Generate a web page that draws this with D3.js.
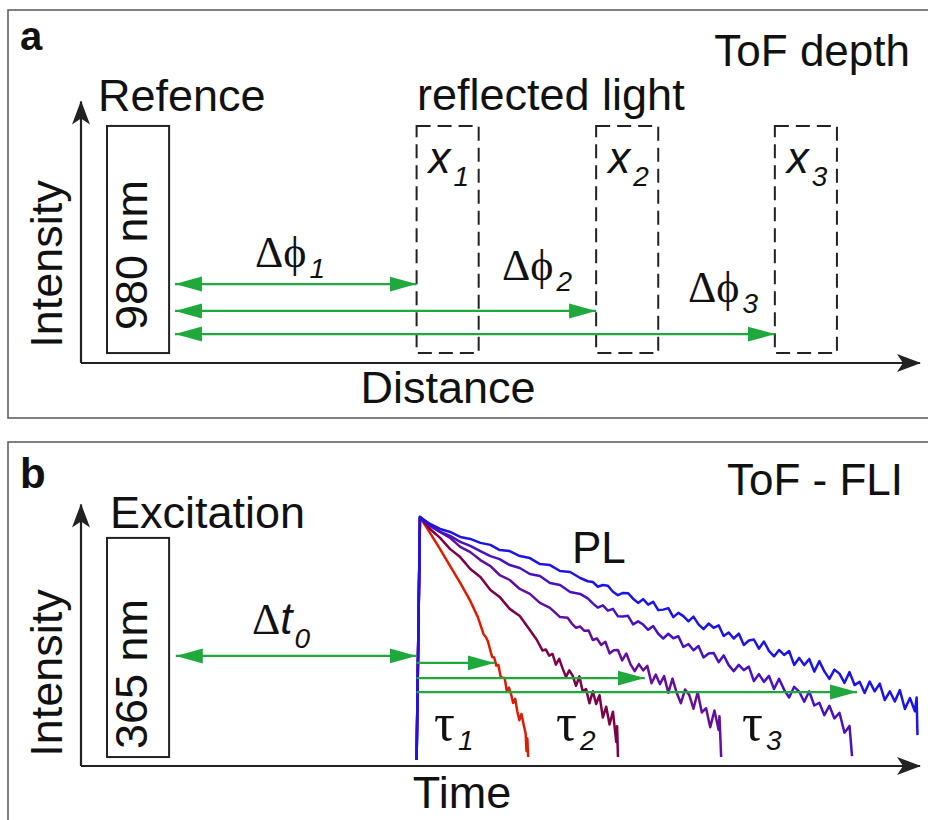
<!DOCTYPE html>
<html>
<head>
<meta charset="utf-8">
<script src="https://cdn.jsdelivr.net/npm/d3@7"></script>
<style>
  body { margin: 0; background: #fff; }
</style>
</head>
<body>
<div id="chart"></div>
<script>
// ---- panel a : ToF depth (distance units, 0..100 along the axis) ----
const reflectorNames = ["1", "2", "3"];
const reflectorStart = [40.0, 61.4, 82.7];
const reflectorWidth = 7.4;
const reflectorHeight = [4.0, 95.2];
const referenceSpan = [3.1, 10.5];
const referenceHeight = [4.0, 95.2];
const phaseLevels = [31.7, 20.9, 11.6];
const phaseFrom = 11.2;

// ---- panel b : ToF - FLI (time units, log intensity normalised to 100) ----
const excitationSpan = [3.1, 10.5];
const excitationHeight = [3.6, 91.6];
const pulseTime = 40.0;
const delayLevel = 44.2;
const delayFrom = 11.3;
const tauLevels = [41.4, 35.3, 29.7];
const tauEnds = [49.3, 67.2, 92.5];

const decayColors = ["#dc1c00", "#7b0046", "#62109c", "#4812c0", "#1c14e6"];
const decayRed = [[40.0,2.5],[40.4,100],[41.6,93.6],[42.8,87.1],[44.0,80.3],[45.2,73.5],[46.4,66.3],[47.3,59.8],
  [48.0,52.8],[48.25,51.8],[48.5,50.1],[48.75,46.9],[49.0,43.8],[49.25,43.6],[49.5,40.3],[49.75,40.6],[50.0,36.1],
  [50.25,35.4],[50.5,35.3],[50.75,30.1],[51.0,31.5],[51.25,29.0],[51.5,25.3],[51.75,27.0],[52.0,22.0],[52.25,18.4],
  [52.5,20.9],[52.75,16.8],[53.0,13.0],[53.1,6.0],[53.2,11.0],[53.3,3.6]];
const decayMaroon = [[40.0,2.5],[40.4,100],[41.6,95.2],[42.8,91.6],[44.0,87.1],[45.2,83.9],[46.4,79.1],[47.6,75.9],
  [48.8,70.7],[49.9,67.9],[51.1,63.1],[52.3,60.2],[53.5,54.6],[54.3,50.8],
  [55.0,46.4],[55.4,46.8],[55.8,44.3],[56.2,45.0],[56.6,40.7],[57.0,43.0],[57.4,39.2],[57.8,35.8],[58.2,38.4],
  [58.6,36.3],[59.0,32.2],[59.4,36.0],[59.8,29.9],[60.2,30.9],[60.6,25.2],[61.0,30.0],[61.4,24.9],[61.8,28.4],
  [62.2,19.5],[62.6,23.8],[63.0,16.7],[63.4,21.8],[63.8,9.6],[63.9,16.0],[64.0,3.6]];
const decayPurple = [[40.0,2.5],[40.4,100],[41.6,96.8],[42.8,94.0],[44.0,91.6],[45.2,88.0],[46.4,85.9],[47.6,82.7],
  [48.8,80.3],[49.9,76.7],[51.1,74.7],[52.3,71.1],[53.5,69.1],[54.7,65.5],[55.9,63.5],[57.1,59.8],
  [58.0,59.5],[58.5,57.2],[59.0,55.5],[59.5,56.0],[60.0,54.3],[60.5,54.4],[61.0,50.6],[61.5,51.2],[62.0,48.6],
  [62.5,49.9],[63.0,45.2],[63.5,46.5],[64.0,46.6],[64.5,42.4],[65.0,45.2],[65.5,40.8],[66.0,38.1],[66.5,40.9],
  [67.0,38.4],[67.5,40.2],[68.0,33.2],[68.5,36.7],[69.0,32.9],[69.5,36.1],[70.0,29.4],[70.5,35.1],[71.0,29.4],
  [71.5,25.2],[72.0,30.7],[72.5,28.5],[73.0,23.0],[73.5,29.6],[74.0,21.5],[74.5,23.2],[75.0,15.6],[75.5,22.3],
  [76.0,14.5],[76.1,20.0],[76.3,3.6]];
const decayIndigo = [[40.0,2.5],[40.4,100],[41.6,96.4],[42.8,94.0],[44.0,92.4],[45.2,90.0],[46.4,88.4],[47.6,86.3],
  [48.8,84.3],[49.9,83.1],[51.1,80.7],[52.3,79.5],[53.5,77.1],[54.7,76.3],[55.9,73.5],[57.1,72.7],[58.3,69.9],
  [59.5,69.1],[60.4,67.3],[61.0,65.3],[61.6,63.6],[62.2,64.5],[62.8,62.4],[63.4,63.1],[64.0,60.1],[64.6,60.0],
  [65.2,60.3],[65.8,56.9],[66.4,58.1],[67.0,56.8],[67.6,54.7],[68.2,56.2],[68.8,53.1],[69.4,51.2],[70.0,53.1],
  [70.6,51.3],[71.2,52.1],[71.8,47.8],[72.4,49.0],[73.0,46.5],[73.6,48.2],[74.2,43.6],[74.8,45.2],[75.4,45.4],
  [76.0,41.7],[76.6,44.4],[77.2,40.5],[77.8,38.1],[78.4,40.6],[79.0,38.5],[79.6,39.9],[80.2,34.1],[80.8,36.9],
  [81.4,33.8],[82.0,36.2],[82.6,30.9],[83.2,35.0],[83.8,30.7],[84.4,27.5],[85.0,31.8],[85.6,29.9],[86.2,25.8],
  [86.8,30.0],[87.4,24.3],[88.0,25.4],[88.6,20.4],[89.2,24.2],[89.8,19.1],[90.4,21.4],[91.0,13.4],[91.6,16.1],
  [91.8,8.0],[91.9,4.0]];
const decayBlue = [[40.0,2.5],[40.4,100],[41.6,97.2],[42.8,95.2],[44.0,94.0],[45.2,92.0],[46.4,91.2],[47.6,89.6],
  [48.8,88.8],[49.9,86.7],[51.1,86.3],[52.3,84.3],[53.5,83.5],[54.7,81.1],[55.9,80.7],[57.1,78.3],[58.3,77.9],
  [59.5,75.5],[60.4,74.2],[61.0,73.9],[61.6,72.0],[62.2,72.7],[62.8,72.4],[63.4,70.0],[64.0,68.6],[64.6,69.5],
  [65.2,69.4],[65.8,67.2],[66.4,65.5],[67.0,67.0],[67.6,64.8],[68.2,65.9],[68.8,62.6],[69.4,62.8],[70.0,63.4],
  [70.6,59.8],[71.2,61.5],[71.8,60.2],[72.4,58.1],[73.0,60.0],[73.6,56.9],[74.2,55.0],[74.8,57.2],[75.4,55.5],
  [76.0,56.5],[76.6,52.2],[77.2,53.6],[77.8,51.2],[78.4,53.2],[79.0,48.6],[79.6,50.4],[80.2,50.8],[80.8,47.1],
  [81.4,50.0],[82.0,46.2],[82.6,44.0],[83.2,46.6],[83.8,44.6],[84.4,46.2],[85.0,40.6],[85.6,43.4],[86.2,40.5],
  [86.8,43.0],[87.4,37.9],[88.0,42.1],[88.6,38.0],[89.2,35.0],[89.8,38.7],[90.4,37.1],[91.0,33.4],[91.6,37.7],
  [92.2,32.5],[92.8,33.8],[93.4,29.3],[94.0,33.9],[94.6,30.0],[95.2,33.1],[95.8,26.5],[96.4,30.0],[97.0,25.9],
  [97.6,30.5],[98.2,22.9],[98.8,27.3],[99.4,22.0],[99.6,27.5],[99.7,12.4]];
const decays = [decayRed, decayMaroon, decayPurple, decayIndigo, decayBlue];

const sans = "'Liberation Sans', Arial, Helvetica, sans-serif";
const serif = "'Liberation Serif', 'Times New Roman', 'DejaVu Serif', serif";
const green = "#1fa83c";
const ink = "#111";
const axisInk = "#222";

const W = 928, H = 820;
const svg = d3.select("#chart").append("svg")
  .attr("width", W).attr("height", H)
  .style("display", "block")
  .style("background", "#fff");

// scales (both panels share the horizontal one)
const x = d3.scaleLinear().domain([0, 100]).range([81, 920]);
const ya = d3.scaleLinear().domain([0, 100]).range([363, 114]);
const yb = d3.scaleLinear().domain([0, 100]).range([766, 517]);

// markers
const defs = svg.append("defs");
defs.append("marker")
  .attr("id", "greenHead")
  .attr("markerUnits", "userSpaceOnUse")
  .attr("viewBox", "0 0 27 16")
  .attr("markerWidth", 27).attr("markerHeight", 16)
  .attr("refX", 27).attr("refY", 8)
  .attr("orient", "auto-start-reverse")
  .append("path").attr("d", "M0,0.5 L27,8 L0,15.5 Z").attr("fill", green);

defs.append("marker")
  .attr("id", "axisHead")
  .attr("markerUnits", "userSpaceOnUse")
  .attr("viewBox", "0 0 24 20")
  .attr("markerWidth", 24).attr("markerHeight", 20)
  .attr("refX", 23).attr("refY", 10)
  .attr("orient", "auto")
  .append("path").attr("d", "M0,1 L24,10 L0,19 L6,10 Z").attr("fill", axisInk);

// ---- helpers ----
function text(g, px, py, str, size, opt = {}) {
  const t = g.append("text")
    .attr("x", px).attr("y", py)
    .attr("font-family", opt.family || sans)
    .attr("font-size", size)
    .attr("fill", ink)
    .attr("text-anchor", opt.anchor || "start")
    .text(str);
  if (opt.weight) t.attr("font-weight", opt.weight);
  if (opt.style) t.attr("font-style", opt.style);
  return t;
}

function rotated(g, cy, baseX, str, size) {
  g.append("text")
    .attr("transform", `translate(${baseX},${cy}) rotate(-90)`)
    .attr("font-family", sans).attr("font-size", size)
    .attr("fill", ink).attr("text-anchor", "middle")
    .text(str);
}

// symbol(s) + italic subscript
function withSub(g, px, py, main, sub, opt = {}) {
  const t = g.append("text").attr("x", px).attr("y", py)
    .attr("fill", ink).attr("font-size", opt.size || 44);
  main.forEach(m => {
    const s = t.append("tspan").attr("font-family", m.family || sans).text(m.txt);
    if (m.style) s.attr("font-style", m.style);
  });
  t.append("tspan")
    .attr("font-family", sans).attr("font-style", "italic")
    .attr("font-size", 28)
    .attr("dx", opt.dx || 4).attr("dy", opt.dy || 12)
    .text(sub);
}

function axes(g, y) {
  g.append("path")
    .attr("d", `M${x(0)},${y(0)} V${y(105)}`)
    .attr("stroke", axisInk).attr("stroke-width", 2.2).attr("fill", "none")
    .attr("marker-end", "url(#axisHead)");
  g.append("path")
    .attr("d", `M${x(0)},${y(0)} H${x(100)}`)
    .attr("stroke", axisInk).attr("stroke-width", 2.2).attr("fill", "none")
    .attr("marker-end", "url(#axisHead)");
}

function greenArrow(g, x0, x1, yv, both) {
  const p = g.append("line")
    .attr("x1", x(x0)).attr("x2", x(x1))
    .attr("y1", yv).attr("y2", yv)
    .attr("stroke", green).attr("stroke-width", 2.2)
    .attr("marker-end", "url(#greenHead)");
  if (both) p.attr("marker-start", "url(#greenHead)");
}

// ---- panel frames ----
svg.append("rect").attr("x", 8).attr("y", 10).attr("width", 940).attr("height", 408)
  .attr("fill", "none").attr("stroke", "#555").attr("stroke-width", 1.5);
svg.append("rect").attr("x", 8).attr("y", 442).attr("width", 940).attr("height", 420)
  .attr("fill", "none").attr("stroke", "#555").attr("stroke-width", 1.5);

// ================= panel a =================
const ga = svg.append("g");
axes(ga, ya);

ga.append("rect")
  .attr("x", x(referenceSpan[0])).attr("y", ya(referenceHeight[1]))
  .attr("width", x(referenceSpan[1]) - x(referenceSpan[0]))
  .attr("height", ya(referenceHeight[0]) - ya(referenceHeight[1]))
  .attr("fill", "none").attr("stroke", "#222").attr("stroke-width", 2);

ga.selectAll("rect.refl")
  .data(reflectorStart)
  .join("rect")
  .attr("class", "refl")
  .attr("x", d => x(d)).attr("y", ya(reflectorHeight[1]))
  .attr("width", x(reflectorWidth) - x(0))
  .attr("height", ya(reflectorHeight[0]) - ya(reflectorHeight[1]))
  .attr("fill", "none").attr("stroke", "#222").attr("stroke-width", 2)
  .attr("stroke-dasharray", "14,7");

phaseLevels.forEach((lv, i) => greenArrow(ga, phaseFrom, reflectorStart[i], ya(lv), true));

text(ga, 20, 50, "a", 40, {weight: "bold"});
text(ga, 910, 66, "ToF depth", 44, {anchor: "end"});
text(ga, 98, 111, "Refence", 45);
text(ga, 417, 110, "reflected light", 45);
rotated(ga, 255, 147, "980 nm", 45);
rotated(ga, 264, 62, "Intensity", 45);
text(ga, 448, 403, "Distance", 45, {anchor: "middle"});

reflectorNames.forEach((n, i) => {
  withSub(ga, x(reflectorStart[i]) + 12, 173, [{txt: "x", style: "italic"}], n, {dx: 3, dy: 13});
});

const phaseLabelX = [255, 502, 688];
const phaseLabelY = [267, 280, 302];
reflectorNames.forEach((n, i) => {
  withSub(ga, phaseLabelX[i], phaseLabelY[i], [{txt: "\u0394\u03d5", family: serif}], n, {dx: 3, dy: 11});
});

// ================= panel b =================
const gb = svg.append("g");
axes(gb, yb);

gb.append("rect")
  .attr("x", x(excitationSpan[0])).attr("y", yb(excitationHeight[1]))
  .attr("width", x(excitationSpan[1]) - x(excitationSpan[0]))
  .attr("height", yb(excitationHeight[0]) - yb(excitationHeight[1]))
  .attr("fill", "none").attr("stroke", "#222").attr("stroke-width", 2);

const line = d3.line().x(d => x(d[0])).y(d => yb(d[1]));
gb.selectAll("path.decay")
  .data(decays)
  .join("path")
  .attr("class", "decay")
  .attr("d", line)
  .attr("fill", "none")
  .attr("stroke", (d, i) => decayColors[i])
  .attr("stroke-width", 2.5)
  .attr("stroke-linejoin", "round");

greenArrow(gb, delayFrom, pulseTime, yb(delayLevel), true);
tauLevels.forEach((lv, i) => greenArrow(gb, pulseTime, tauEnds[i], yb(lv), false));

text(gb, 20, 488, "b", 42, {weight: "bold"});
text(gb, 903, 495, "ToF - FLI", 44, {anchor: "end"});
text(gb, 110, 528, "Excitation", 45);
rotated(gb, 674, 147, "365 nm", 45);
rotated(gb, 673, 62, "Intensity", 45);
text(gb, 572, 563, "PL", 44);
text(gb, 462, 808, "Time", 45, {anchor: "middle"});

withSub(gb, 252, 634, [{txt: "\u0394", family: serif}, {txt: "t", style: "italic"}], "0", {dx: 2, dy: 14});

const tauLabelX = [434, 556, 742];
reflectorNames.forEach((n, i) => {
  withSub(gb, tauLabelX[i], 740, [{txt: "\u03c4", family: serif}], n, {dx: 3, dy: 10, size: 52});
});
</script>
</body>
</html>
